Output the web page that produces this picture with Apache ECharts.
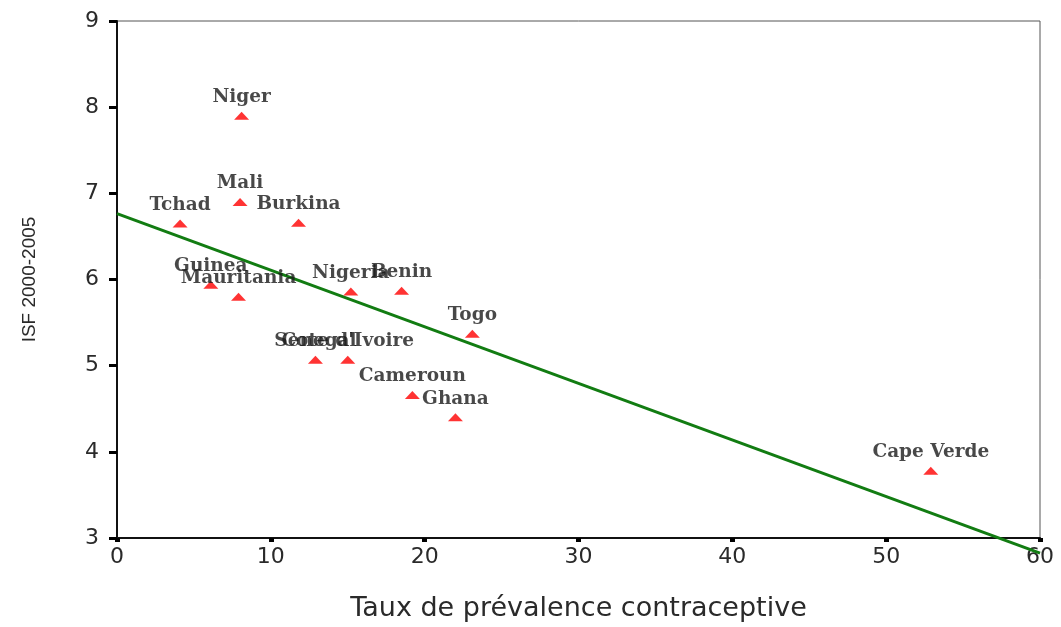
<!DOCTYPE html>
<html>
<head>
<meta charset="utf-8">
<script src="https://cdn.jsdelivr.net/npm/echarts@6/dist/echarts.min.js"></script>
<style>html,body{margin:0;padding:0;background:#fff;}#c{width:1061px;height:627px;}</style>
</head>
<body>
<div id="c"></div>
<script>
const countries = ["Niger","Mali","Tchad","Burkina","Guinea","Mauritania","Nigeria","Benin","Togo","Senegal","Cote d'Ivoire","Cameroun","Ghana","Cape Verde"];
const prevalence = [8.1, 8.0, 4.1, 11.8, 6.1, 7.9, 15.2, 18.5, 23.1, 12.9, 15.0, 19.2, 22.0, 52.9];
const isf = [7.9, 6.9, 6.65, 6.66, 5.94, 5.8, 5.86, 5.87, 5.37, 5.07, 5.07, 4.66, 4.4, 3.78];
const fitX = [0, 60];
const fitY = [6.765, 2.825];
const xTicks = [0, 10, 20, 30, 40, 50, 60];
const yTicks = [3, 4, 5, 6, 7, 8, 9];

const chart = echarts.init(document.getElementById('c'));
chart.setOption({
  animation: false,
  backgroundColor: '#fff',
  grid: { left: 117, right: 21, top: 21, bottom: 85, show: true, borderColor: '#555', borderWidth: 1 },
  xAxis: {
    type: 'value', min: xTicks[0], max: xTicks[xTicks.length - 1], interval: 10,
    name: 'Taux de prévalence contraceptive', nameLocation: 'middle', nameGap: 57,
    nameTextStyle: { color: '#2a2a2a', fontFamily: 'DejaVu Sans', fontSize: 27 },
    axisLine: { lineStyle: { color: '#111', width: 2 } },
    axisTick: { show: true, length: 4, lineStyle: { color: '#000', width: 5 } },
    axisLabel: { color: '#2a2a2a', fontFamily: 'DejaVu Sans', fontSize: 22, margin: 8 },
    splitLine: { show: false }
  },
  yAxis: {
    type: 'value', min: yTicks[0], max: yTicks[yTicks.length - 1], interval: 1,
    name: 'ISF 2000-2005', nameLocation: 'middle', nameGap: 78, nameRotate: 90,
    nameTextStyle: { color: '#2a2a2a', fontFamily: 'Liberation Sans', fontSize: 19 },
    axisLine: { lineStyle: { color: '#111', width: 2 } },
    axisTick: { show: true, length: 8, lineStyle: { color: '#000', width: 3 } },
    axisLabel: { color: '#2a2a2a', fontFamily: 'DejaVu Sans', fontSize: 22, margin: 18 },
    splitLine: { show: false }
  },
  series: [
    {
      type: 'line', data: fitX.map((x, i) => [x, fitY[i]]), clip: false,
      showSymbol: false, symbol: 'none',
      lineStyle: { color: '#127c12', width: 3 }, z: 2
    },
    {
      type: 'scatter',
      data: countries.map((n, i) => ({ name: n, value: [prevalence[i], isf[i]] })),
      symbol: 'triangle', symbolSize: [15, 8],
      itemStyle: { color: '#ff0000' },
      label: {
        show: true, position: 'top', distance: 5, formatter: p => p.name,
        color: '#1a1a1a', fontFamily: 'DejaVu Serif', fontSize: 18.5, fontWeight: 'bold'
      },
      z: 3
    }
  ]
});
</script>
</body>
</html>
